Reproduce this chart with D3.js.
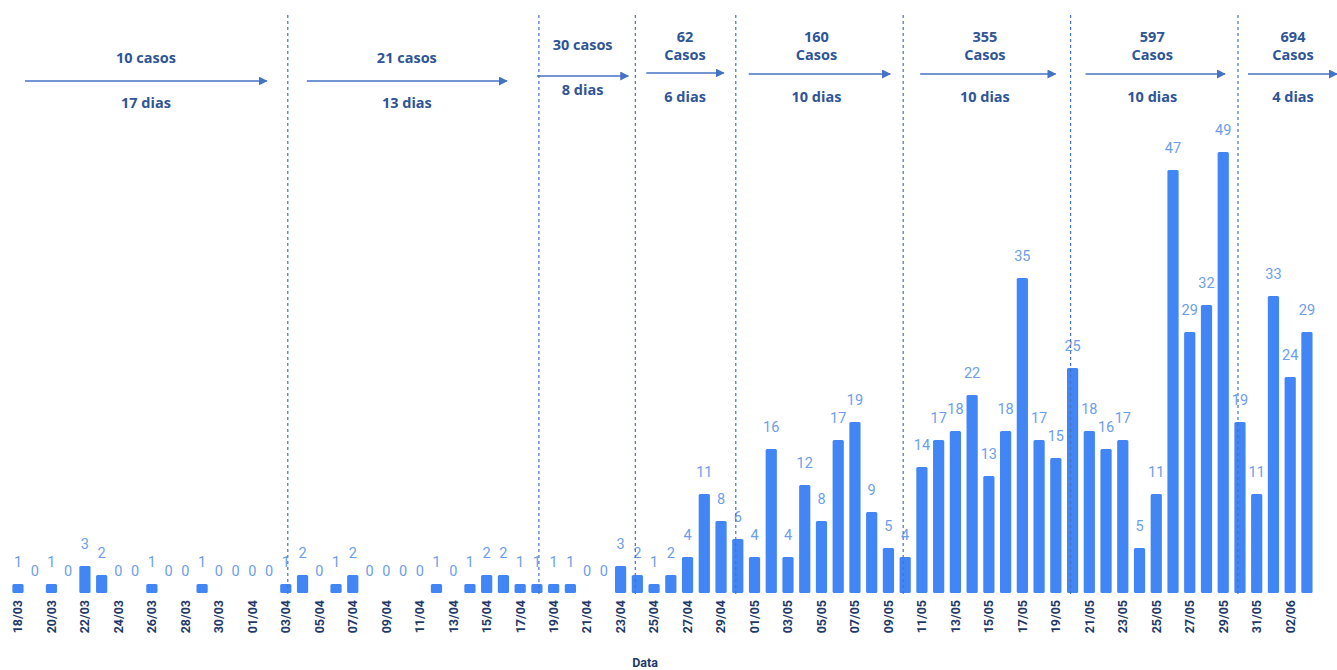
<!DOCTYPE html>
<html>
<head>
<meta charset="utf-8">
<style>
  body { margin: 0; background: #fff; }
  .bar { fill: #4285F4; }
  .val { fill: #6D9EEB; font-family: Roboto, sans-serif; font-size: 14.5px; text-anchor: middle; }
  .tick text { fill: #1F3A68; font-family: Roboto, sans-serif; font-size: 12.5px; font-weight: bold; }
  .sep { stroke: #4472C4; stroke-width: 1.2; stroke-dasharray: 3,3; }
  .note { fill: #2F5597; font-family: "Open Sans", sans-serif; font-size: 14.5px; font-weight: bold; text-anchor: middle; }
  .arrow { stroke: #4472C4; stroke-width: 1.5; }
</style>
</head>
<body>
<script src="https://cdnjs.cloudflare.com/ajax/libs/d3/7.8.5/d3.min.js"></script>
<script>
  // daily cases, 18/03 .. 03/06
  var dates = ["18/03","19/03","20/03","21/03","22/03","23/03","24/03","25/03","26/03","27/03","28/03","29/03","30/03","31/03",
    "01/04","02/04","03/04","04/04","05/04","06/04","07/04","08/04","09/04","10/04","11/04","12/04","13/04","14/04","15/04",
    "16/04","17/04","18/04","19/04","20/04","21/04","22/04","23/04","24/04","25/04","26/04","27/04","28/04","29/04","30/04",
    "01/05","02/05","03/05","04/05","05/05","06/05","07/05","08/05","09/05","10/05","11/05","12/05","13/05","14/05","15/05",
    "16/05","17/05","18/05","19/05","20/05","21/05","22/05","23/05","24/05","25/05","26/05","27/05","28/05","29/05","30/05",
    "31/05","01/06","02/06","03/06"];
  var cases = [1,0,1,0,3,2,0,0,1,0,0,1,0,0,
    0,0,1,2,0,1,2,0,0,0,0,1,0,1,2,
    2,1,1,1,1,0,0,3,2,1,2,4,11,8,6,
    4,16,4,12,8,17,19,9,5,4,14,17,18,22,13,
    18,35,17,15,25,18,16,17,5,11,47,29,32,49,19,
    11,33,24,29];

  // period separators (dashed lines) and the notes between them
  var sepDates = ["03/04","18/04","24/04","30/04","10/05","20/05","30/05"];
  var noteTop = [["10 casos"],["21 casos"],["30 casos"],["62","Casos"],["160","Casos"],["355","Casos"],["597","Casos"],["694","Casos"]];
  var noteBottom = ["17 dias","13 dias","8 dias","6 dias","10 dias","10 dias","10 dias","4 dias"];

  var W = 1337, H = 670;
  var svg = d3.select("body").append("svg").attr("width", W).attr("height", H);

  var x = d3.scaleBand().domain(dates).range([9.6, 1315.3]).paddingInner(0.33).paddingOuter(0.165);
  var y = d3.scaleLinear().domain([0, 50]).range([593, 143]);

  svg.append("g")
    .attr("transform", "translate(0,593)")
    .call(d3.axisBottom(x).tickValues(dates.filter(function(d, i) { return i % 2 === 0; })).tickSize(0))
    .call(function(g) { g.select(".domain").remove(); })
    .selectAll("text")
      .attr("transform", "rotate(-90)")
      .attr("text-anchor", "end")
      .attr("x", -7)
      .attr("y", 0)
      .attr("dy", "0.35em");

  svg.append("text").attr("x", 645).attr("y", 667)
    .attr("text-anchor", "middle")
    .style("font-family", "Roboto, sans-serif").style("font-size", "12.5px").style("font-weight", "bold")
    .style("fill", "#1F3A68").text("Data");

  svg.selectAll(".bar").data(cases).enter().append("rect")
    .attr("class", "bar")
    .attr("x", function(d, i) { return x(dates[i]); })
    .attr("width", x.bandwidth())
    .attr("y", function(d) { return y(d); })
    .attr("height", function(d) { return y(0) - y(d); })
    .attr("rx", 1.5);

  svg.selectAll(".val").data(cases).enter().append("text")
    .attr("class", "val")
    .attr("x", function(d, i) { return x(dates[i]) + x.bandwidth() / 2; })
    .attr("y", function(d) { return y(d) - 17; })
    .text(function(d) { return d; });

  var sepX = sepDates.map(function(d, i) { return x(d) + x.bandwidth() / 2 + (i < 2 ? 2 : -2); });
  svg.selectAll(".sep").data(sepX).enter().append("line")
    .attr("class", "sep")
    .attr("x1", function(d) { return d; }).attr("x2", function(d) { return d; })
    .attr("y1", 15).attr("y2", 595);

  var defs = svg.append("defs");
  defs.append("marker").attr("id", "head")
    .attr("viewBox", "0 0 10 10").attr("refX", 9).attr("refY", 5)
    .attr("markerWidth", 6).attr("markerHeight", 6).attr("orient", "auto")
    .append("path").attr("d", "M0,0L10,5L0,10z").attr("fill", "#4472C4");

  var edges = [5].concat(sepX, [W + 20]);
  var gapL = [20, 19, -2, 11, 13, 17, 15, 10];
  var gapR = [21, 32, 7, 12, 13, 15, 13, 0];
  noteTop.forEach(function(lines, i) {
    var a = edges[i] + gapL[i], b = Math.min(edges[i + 1] - gapR[i], W);
    if (i === 0) a = 25;
    var cx = i === 7 ? 1293 : (a + b) / 2 - (i > 3 ? 3 : 0);
    var ay, ty, by;
    if (lines.length === 1 && i < 2) { ay = 81; ty = [63]; by = 108; }
    else if (lines.length === 1) { ay = 76; ty = [50]; by = 95; }
    else { ay = 73 + (i > 3 ? 1 : 0); ty = [42, 60]; by = 102; }
    svg.append("line").attr("class", "arrow")
      .attr("x1", a).attr("x2", b).attr("y1", ay).attr("y2", ay)
      .attr("marker-end", "url(#head)");
    lines.forEach(function(t, k) {
      svg.append("text").attr("class", "note").attr("x", cx).attr("y", ty[k]).text(t);
    });
    svg.append("text").attr("class", "note").attr("x", cx).attr("y", by).text(noteBottom[i]);
  });
</script>
</body>
</html>
